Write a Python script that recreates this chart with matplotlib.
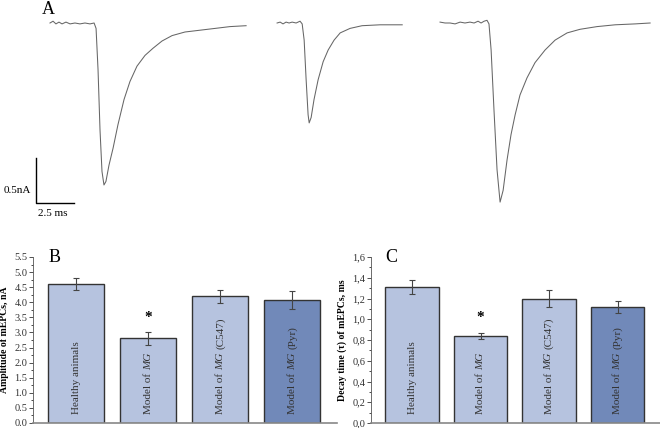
import numpy as np
import matplotlib
matplotlib.use("Agg")
import matplotlib.pyplot as plt
from matplotlib.ticker import MultipleLocator, FuncFormatter

plt.rcParams['font.family'] = ['Liberation Serif', 'DejaVu Serif']

# ---------------- data ---------------- #
# panel A: three mEPC sweeps, time (ms) from sweep start, current (nA)
t1 = [0, 0.20, 0.39, 0.59, 0.79, 1.05, 1.32, 1.64, 1.97, 2.30, 2.63, 2.90, 3.03, 3.16, 3.29,
      3.42, 3.55, 3.68, 3.88, 4.15, 4.47, 4.87, 5.26, 5.72, 6.25, 6.78, 7.37, 8.03, 8.88,
      9.87, 10.86, 11.84, 12.90]
i1 = [0, 0.02, -0.01, 0.01, -0.01, 0.01, -0.01, 0, -0.01, 0, -0.01, 0, -0.06, -0.52, -1.19,
      -1.65, -1.80, -1.76, -1.58, -1.39, -1.13, -0.85, -0.65, -0.48, -0.36, -0.28, -0.20,
      -0.14, -0.10, -0.08, -0.06, -0.04, -0.03]
t2 = [0, 0.20, 0.39, 0.59, 0.79, 0.99, 1.25, 1.51, 1.65, 1.78, 1.91, 2.04, 2.11, 2.24, 2.43,
      2.70, 3.03, 3.36, 3.75, 4.15, 4.80, 5.59, 6.78, 8.23]
i2 = [0, 0.01, -0.01, 0.01, 0, 0.01, 0, 0.02, -0.01, -0.19, -0.63, -1.02, -1.11, -1.05, -0.85,
      -0.63, -0.43, -0.30, -0.19, -0.11, -0.06, -0.03, -0.02, -0.02]
t3 = [0, 0.33, 0.66, 0.99, 1.32, 1.64, 1.97, 2.24, 2.50, 2.70, 2.90, 3.09, 3.22, 3.36, 3.55,
      3.75, 3.95, 4.15, 4.41, 4.67, 4.94, 5.26, 5.72, 6.25, 6.91, 7.57, 8.36, 9.21, 10.33,
      11.52, 12.83, 13.82]
i3 = [0.01, 0, 0, -0.01, 0.01, 0, 0.01, 0, 0.02, 0, 0.02, 0.03, -0.01, -0.30, -0.97, -1.63,
      -1.99, -1.86, -1.52, -1.24, -1.02, -0.80, -0.61, -0.44, -0.30, -0.19, -0.11, -0.07,
      -0.04, -0.02, -0.01, 0]
sweep_start = [3.29, 18.23, 28.95]

# panels B and C; bar labels as (plain, italic, plain) pieces
groups = [('Healthy animals', '', ''), ('Model of', 'MG', ''),
          ('Model of', 'MG', '(C547)'), ('Model of', 'MG', '(Pyr)')]
amplitude = [4.6, 2.8, 4.2, 4.08]
amplitude_err = [0.2, 0.2, 0.22, 0.3]
decay = [1.31, 0.84, 1.2, 1.12]
decay_err = [0.07, 0.03, 0.08, 0.06]
signif = [False, True, False, False]

bar_colors = ['#b6c3df', '#b6c3df', '#b6c3df', '#7189b9']

# ---------------- figure ---------------- #
W, H = 660, 428
fig = plt.figure(figsize=(W / 100, H / 100), dpi=100)

# panel A: axes in ms / nA, 2.5 ms = 38 px, 0.5 nA = 45 px
axA = fig.add_axes([0, 1 - 220 / H, 1, 220 / H])
axA.set_xlim(0, W * 2.5 / 38)
axA.set_ylim(-(220 - 23) * 0.5 / 45, 23 * 0.5 / 45)
axA.axis('off')
for t0, tt, ii in zip(sweep_start, [t1, t2, t3], [i1, i2, i3]):
    axA.plot(np.array(tt) + t0, ii, color='#666666', lw=0.75)
# scale bar
sx, sy = 2.37, -2.0
axA.plot([sx, sx, sx + 2.5], [sy + 0.5, sy, sy], color='black', lw=1.0)
axA.text(sx - 0.35, sy + 0.14, '0.5nA', ha='right', va='center', fontsize=8)
axA.text(sx + 1.1, sy - 0.12, '2.5 ms', ha='center', va='center', fontsize=8)
axA.text(3.15, 0.15, 'A', ha='center', va='center', fontsize=13)


def bar_label(ax, xi, y, pieces):
    kw = dict(rotation=90, ha='center', va='bottom', fontsize=8, color='#333333', zorder=4)
    prev = ax.text(xi, y, pieces[0], **kw)
    for k, p in enumerate(pieces[1:]):
        if not p:
            continue
        style = 'italic' if k == 0 else 'normal'
        prev = ax.annotate(p, xy=(0.5, 1), xycoords=prev, xytext=(0, 2.2),
                           textcoords='offset points', fontstyle=style, **kw)


def bar_panel(ax, vals, errs, ylim, major, minor, fmt, ylabel, star_y, letter):
    x = np.arange(len(vals))
    ax.bar(x, vals, width=0.78, color=bar_colors, edgecolor='#333333', linewidth=1.0, zorder=2)
    ax.errorbar(x, vals, yerr=errs, fmt='none', ecolor='#444444', elinewidth=0.8,
                capsize=2, capthick=0.8, zorder=3)
    for xi, g in zip(x, groups):
        bar_label(ax, xi, ylim[1] * 0.055, g)
    for xi, s in zip(x, signif):
        if s:
            ax.text(xi, star_y, '*', ha='center', va='center', fontsize=11, fontweight='bold')
    ax.set_ylim(*ylim)
    ax.set_xlim(-0.6, 3.62)
    ax.yaxis.set_major_locator(MultipleLocator(major))
    ax.yaxis.set_minor_locator(MultipleLocator(minor))
    ax.yaxis.set_major_formatter(FuncFormatter(fmt))
    ax.tick_params(axis='y', labelsize=7.5, length=3, width=0.6, pad=1, colors='#333333')
    ax.tick_params(axis='y', which='minor', length=1.5, width=0.5)
    ax.set_xticks([])
    for s in ['top', 'right']:
        ax.spines[s].set_visible(False)
    ax.spines['left'].set_color('#555555')
    ax.spines['left'].set_linewidth(0.6)
    ax.spines['bottom'].set_color('#888888')
    ax.spines['bottom'].set_linewidth(1.2)
    ax.set_ylabel(ylabel, fontsize=7, fontweight='bold', labelpad=4)
    ax.text(0.07, 1.0, letter, transform=ax.transAxes, fontsize=13, ha='center', va='center')


axB = fig.add_axes([33 / W, 1 - 423 / H, 304 / W, 166 / H])
bar_panel(axB, amplitude, amplitude_err, (0, 5.5), 0.5, 0.25,
          lambda v, p: f'{v:.1f}', 'Amplitude of mEPCs, nA', 3.5, 'B')

axC = fig.add_axes([371 / W, 1 - 423 / H, 289 / W, 166 / H])
bar_panel(axC, decay, decay_err, (0, 1.6), 0.2, 0.1,
          lambda v, p: f'{v:.1f}'.replace('.', ','), 'Decay time (\u03c4) of mEPCs, ms', 1.02, 'C')

fig.savefig('out.png', dpi=100)
